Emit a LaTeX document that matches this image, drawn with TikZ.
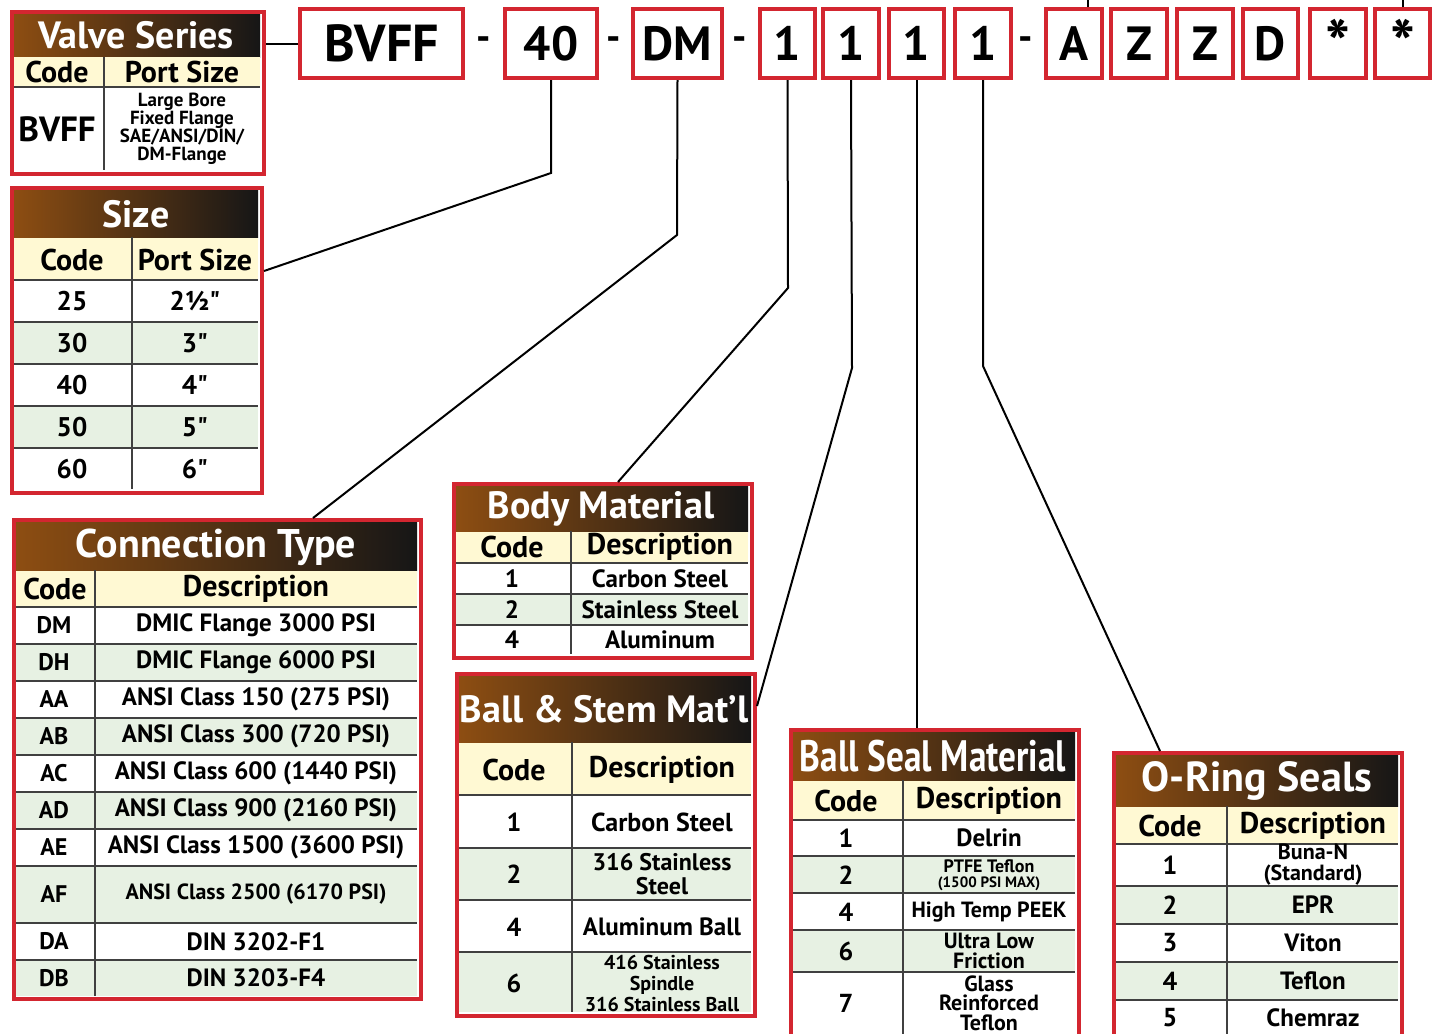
\documentclass[tikz,border=0pt]{standalone}
\usepackage{fontspec}
\setmainfont{PT Sans}[Ligatures=TeXOff]
\usepackage{tikz}
\definecolor{vred}{HTML}{D32630}
\definecolor{hdrbrown}{HTML}{8E4E12}
\definecolor{hdrdark}{HTML}{161616}
\definecolor{hdrcream}{HTML}{FFF9D3}
\definecolor{rowgreen}{HTML}{E7F1E3}

\begin{document}
\begin{tikzpicture}[x=1pt,y=-1pt,font=\bfseries,
  codebox/.style={draw=vred,line width=4pt,fill=white,inner sep=0pt,minimum height=69,font=\fontsize{48}{50}\selectfont\bfseries},
  sepdash/.style={inner sep=0pt,font=\fontsize{40}{40}\selectfont\bfseries},
  tblframe/.style={draw=vred,line width=4pt,inner sep=0pt,anchor=north west},
  hdrshade/.style={left color=hdrbrown,right color=hdrdark},
  ttl/.style={text=white,inner sep=0pt,font=\fontsize{38}{40}\selectfont\bfseries},
  colhd/.style={inner sep=0pt,font=\fontsize{30}{32}\selectfont\bfseries},
  cell/.style={inner sep=0pt,align=center,font=\fontsize{25}{21}\selectfont\bfseries},
  gridline/.style={draw=black!75,line width=1.3pt},
  leader/.style={draw=black,line width=2pt}]
\useasboundingbox (0,0) rectangle (1436,1034);
\clip (0,0) rectangle (1436,1034);
\fill[white] (0,0) rectangle (1436,1034);

% model code boxes
\node[codebox,minimum width=163,font=\fontsize{52}{54}\selectfont\bfseries] (bvff) at (381.5,43.5) {BVFF};
\foreach \nm/\cx/\w/\txt in {c40/551/92/40, cdm/677.5/89/DM, cb/787.5/55/1, cbs/851/56/1,
    cse/916.5/55/1, cor/983/56/1, ca/1074/56/A, cz1/1139/56/Z, cz2/1205/56/Z, cd/1270.5/55/D}
  \node[codebox,minimum width=\w] (\nm) at (\cx,43.5) {\txt};
\node[codebox,minimum width=56,font=\fontsize{66}{66}\selectfont\bfseries] (cst1) at (1338,43.5) {*};
\node[codebox,minimum width=55,font=\fontsize{66}{66}\selectfont\bfseries] (cst2) at (1402.5,43.5) {*};
\node[sepdash] (dsh1) at (484,44) {-};
\node[sepdash] (dsh2) at (614,44) {-};
\node[sepdash] (dsh3) at (740,44) {-};
\node[sepdash] (dsh4) at (1026,44) {-};

% valve series
\shade[hdrshade] (12,12) rectangle (260,57);
\fill[hdrcream] (12,57) rectangle (260,87);
\draw[gridline] (12,87) -- (260,87);
\draw[gridline] (104,57) -- (104,170);
\node[ttl] (vserttl) at (136,35) {Valve Series};
\node[colhd] (vserc) at (57,72) {Code};
\node[colhd] (vserp) at (182,72) {Port Size};
\node[cell,font=\fontsize{35}{36}\selectfont\bfseries] (vser1) at (57,129) {BVFF};
\node[cell,font=\fontsize{19}{18}\selectfont\bfseries] (vser1d) at (182,129) {Large Bore\\Fixed Flange\\SAE/ANSI/DIN/\\DM-Flange};
\node[tblframe,minimum width=252,minimum height=162] (vser) at (10,10) {};

% size
\foreach \t/\b in {322/364,406/448} \fill[rowgreen] (12,\t) rectangle (258,\b);
\fill[hdrcream] (12,237) rectangle (258,280);
\shade[hdrshade] (12,190) rectangle (258,237);
\foreach \y in {280,322,364,406,448} \draw[gridline] (12,\y) -- (258,\y);
\draw[gridline] (132,237) -- (132,489);
\node[ttl] (sizettl) at (136,214) {Size};
\node[colhd] (sizec) at (72,260) {Code};
\node[colhd] (sizep) at (195,260) {Port Size};
\foreach \c/\d/\y [count=\i] in {25/2½"/301, 30/3"/343, 40/4"/385, 50/5"/427, 60/6"/469} {
  \node[cell,font=\fontsize{27}{27}\selectfont\bfseries] (sz\i) at (72,\y) {\c};
  \node[cell,font=\fontsize{27}{27}\selectfont\bfseries] (szd\i) at (195,\y) {\d};
}
\node[tblframe,minimum width=250,minimum height=305] (sizetbl) at (10,186) {};

% connection type
\foreach \t/\b in {644/681,718/755,792/829,866/923,960/996} \fill[rowgreen] (14,\t) rectangle (417,\b);
\fill[hdrcream] (14,570) rectangle (417,607);
\shade[hdrshade] (14,522) rectangle (417,570);
\foreach \y in {607,644,681,718,755,792,829,866,923,960} \draw[gridline] (14,\y) -- (417,\y);
\draw[gridline] (95,570) -- (95,996);
\node[ttl,font=\fontsize{40}{42}\selectfont\bfseries] (connttl) at (216,547) {Connection Type};
\node[colhd] (connc) at (55,589) {Code};
\node[colhd] (connd) at (256,589) {Description};
\foreach \c/\d/\y/\fs [count=\i] in {DM/DMIC Flange 3000 PSI/625.5/25, DH/DMIC Flange 6000 PSI/662.5/25,
    AA/ANSI Class 150 (275 PSI)/699.5/25, AB/ANSI Class 300 (720 PSI)/736.5/25,
    AC/ANSI Class 600 (1440 PSI)/773.5/25, AD/ANSI Class 900 (2160 PSI)/810.5/25,
    AE/ANSI Class 1500 (3600 PSI)/847.5/25, AF/ANSI Class 2500 (6170 PSI)/894.5/22,
    DA/DIN 3202-F1/941.5/25, DB/DIN 3203-F4/978/25} {
  \node[cell,font=\fontsize{24}{24}\selectfont\bfseries] (ct\i) at (54,\y) {\c};
  \node[cell,font=\fontsize{\fs}{\fs}\selectfont\bfseries] (ctd\i) at (256,\y) {\d};
}
\node[tblframe,minimum width=407,minimum height=479] (conn) at (12,518) {};

% body material
\fill[rowgreen] (454,594) rectangle (748,625);
\fill[hdrcream] (454,531) rectangle (748,563);
\shade[hdrshade] (454,486) rectangle (748,531);
\foreach \y in {563,594,625} \draw[gridline] (454,\y) -- (748,\y);
\draw[gridline] (571,531) -- (571,654);
\node[ttl] (bodyttl) at (601,509) {Body Material};
\node[colhd] (bodyc) at (512,547) {Code};
\node[colhd] (bodyd) at (660,547) {Description};
\foreach \c/\d/\y [count=\i] in {1/Carbon Steel/578.5, 2/Stainless Steel/609.5, 4/Aluminum/639.5} {
  \node[cell] (bm\i) at (512,\y) {\c};
  \node[cell] (bmd\i) at (660,\y) {\d};
}
\node[tblframe,minimum width=298,minimum height=174] (body) at (452,482) {};

% ball and stem
\foreach \t/\b in {848/900,952/1012} \fill[rowgreen] (457,\t) rectangle (751,\b);
\fill[hdrcream] (457,742) rectangle (751,795);
\shade[hdrshade] (457,676) rectangle (751,742);
\foreach \y in {795,848,900,952} \draw[gridline] (457,\y) -- (751,\y);
\draw[gridline] (572,742) -- (572,1012);
\node[ttl] (ballttl) at (604,709) {Ball \& Stem Mat’l};
\node[colhd] (ballc) at (514,770) {Code};
\node[colhd] (balld) at (662,770) {Description};
\foreach \c/\d/\y/\fs/\bs [count=\i] in {1/Carbon Steel/822/26/22, 2/{316 Stainless\\Steel}/874/24/23.5,
    4/Aluminum Ball/927/25/22, 6/{416 Stainless\\Spindle\\316 Stainless Ball}/983/20/21} {
  \node[cell,font=\fontsize{26}{26}\selectfont\bfseries] (bs\i) at (514,\y) {\c};
  \node[cell,font=\fontsize{\fs}{\bs}\selectfont\bfseries] (bsd\i) at (662,\y) {\d};
}
\node[tblframe,minimum width=298,minimum height=342] (ball) at (455,672) {};

% ball seal material
\foreach \t/\b in {856/893,930/972} \fill[rowgreen] (791,\t) rectangle (1075,\b);
\fill[hdrcream] (791,780) rectangle (1075,820);
\shade[hdrshade] (791,732) rectangle (1075,780);
\foreach \y in {820,856,893,930,972} \draw[gridline] (791,\y) -- (1075,\y);
\draw[gridline] (903,780) -- (903,1040);
\node[ttl,font=\fontsize{44}{46}\selectfont\bfseries] (sealttl) at (933,756) {\scalebox{0.8}[1]{Ball Seal Material}};
\node[colhd] (sealc) at (846,801) {Code};
\node[colhd] (seald) at (989,801) {Description};
\foreach \c/\d/\y/\fs [count=\i] in {1/Delrin/838/25, 4/High Temp PEEK/912/22,
    6/{Ultra Low\\Friction}/951/22, 7/{Glass\\Reinforced\\Teflon}/1003/22} {
  \node[cell,font=\fontsize{26}{26}\selectfont\bfseries] (ms\i) at (846,\y) {\c};
  \node[cell,font=\fontsize{\fs}{19.5}\selectfont\bfseries] (msd\i) at (989,\y) {\d};
}
\node[cell,font=\fontsize{26}{26}\selectfont\bfseries] (ms2) at (846,875) {2};
\node[cell,font=\fontsize{18}{15}\selectfont\bfseries] (msd2) at (989,875) {PTFE Teflon\\{\fontsize{15}{15}\selectfont(1500 PSI MAX)}};
\node[tblframe,minimum width=288,minimum height=312] (seal) at (789,728) {};

% o-ring seals
\foreach \t/\b in {886/924,962/1000} \fill[rowgreen] (1114,\t) rectangle (1398,\b);
\fill[hdrcream] (1114,806) rectangle (1398,844);
\shade[hdrshade] (1114,755) rectangle (1398,806);
\foreach \y in {844,886,924,962,1000} \draw[gridline] (1114,\y) -- (1398,\y);
\draw[gridline] (1227,806) -- (1227,1040);
\node[ttl,font=\fontsize{42}{44}\selectfont\bfseries] (oringttl) at (1257,781) {O-Ring Seals};
\node[colhd] (oringc) at (1170,826) {Code};
\node[colhd] (oringd) at (1313,826) {Description};
\foreach \c/\d/\y/\fs [count=\i] in {1/{Buna-N\\(Standard)}/865/22, 2/EPR/905/25, 3/Viton/943/25, 4/Teflon/981/25, 5/Chemraz/1018/25} {
  \node[cell,font=\fontsize{26}{26}\selectfont\bfseries] (or\i) at (1170,\y) {\c};
  \node[cell,font=\fontsize{\fs}{21}\selectfont\bfseries] (ord\i) at (1313,\y) {\d};
}
\node[tblframe,minimum width=288,minimum height=289] (oring) at (1112,751) {};

% leaders
\coordinate (k40) at (551,173);
\coordinate (kdm) at (677,235);
\coordinate (kb) at (788,288);
\coordinate (kbs) at (852,368);
\coordinate (kor) at (983,366);
\coordinate (atop) at (1088,0);
\coordinate (sttop) at (1403,0);
\draw[leader] (bvff.west) -- (vser.east |- bvff.west);
\draw[leader] (c40.south) -- (k40) -- (sizetbl.north east |- 0,271);
\draw[leader] (cdm.south) -- (kdm) -- (conn.north west -| 313,0);
\draw[leader] (cb.south) -- (kb) -- (body.north west -| 618,0);
\draw[leader] (cbs.south) -- (kbs) -- (ball.north east |- 0,706);
\draw[leader] (cse.south) -- (seal.north west -| cse.south);
\draw[leader] (cor.south) -- (kor) -- (oring.north west -| 1160,0);
\draw[leader] (ca.north -| atop) -- (atop);
\draw[leader] (cst2.north -| sttop) -- (sttop);
\end{tikzpicture}
\end{document}
